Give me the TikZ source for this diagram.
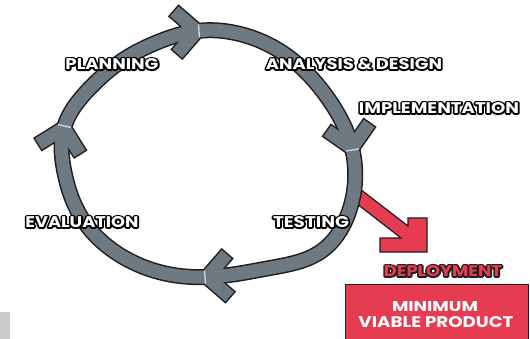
\documentclass[tikz,border=0pt]{standalone}
\usepackage{fontspec}
\setmainfont{Poppins}
\usetikzlibrary{calc,hobby}
\definecolor{ringgray}{RGB}{111,121,129}
\definecolor{ringdark}{RGB}{30,30,32}
\definecolor{seamcol}{RGB}{214,218,222}
\definecolor{mvpred}{RGB}{229,60,82}
\definecolor{palegray}{RGB}{201,201,201}
% outlined text: a stroked copy underneath, the filled text on top
\newcommand\otext[3]{\rlap{\special{pdf:literal direct q 2 Tr 2 w 1 j #1 RG #1 rg}#3\special{pdf:literal direct Q}}\textcolor{#2}{#3}}
\newcommand\lbl[5]{\resizebox{#1pt}{#2pt}{\bfseries\otext{#3}{#4}{#5}}}
\newcommand\chevpath[2]{($(#1)+(#2+225:30)$) -- (#1) -- ($(#1)+(#2+135:30)$)}
\newcommand\seampath[2]{($(#1)+(#2:2)+(#2+90:6.5)$) -- ($(#1)+(#2:2)+(#2-90:6.5)$)}
\begin{document}
\begin{tikzpicture}[x=1pt,y=-1pt,
  lab/.style={inner sep=0pt, anchor=center},
  ringout/.style={ringdark, line width=16pt},
  ringin/.style={ringgray, line width=13pt},
  chevout/.style={ringdark, line width=16pt, line join=miter, shorten <=-1.5pt, shorten >=-1.5pt},
  chevin/.style={ringgray, line width=13pt, line join=miter},
  seam/.style={seamcol, line width=1.3pt}]
\useasboundingbox (0,0) rectangle (530,339);
\fill[white] (0,0) rectangle (530,339);
\fill[palegray] (0,312) rectangle (10,339);

% red deployment arrow
\draw[fill=mvpred, draw=ringdark, line width=1.2pt, line join=miter]
  (360,189) -- (408,226) -- (408,218) -- (427,218) -- (427,252) -- (380,252) -- (380,238) -- (401,238) -- (352,200) -- cycle;

\coordinate (tT) at (197,31);
\coordinate (tR) at (352,148);
\coordinate (tB) at (207,277);
\coordinate (tL) at (64,128);

% ring outline
\draw[ringout] plot[closed hobby] coordinates {(197,31) (240,34) (290,58) (327,97) (352,148) (355,182) (347,217) (323,250) (270,268) (207,277) (173,275) (123,257) (83,220) (64,170) (64,128) (90,88) (123,60) (163,40)};
\draw[chevout] \chevpath{tT}{-4};
\draw[chevout] \chevpath{tR}{80};
\draw[chevout] \chevpath{tB}{176};
\draw[chevout] \chevpath{tL}{-77};
% ring fill
\draw[ringin] plot[closed hobby] coordinates {(197,31) (240,34) (290,58) (327,97) (352,148) (355,182) (347,217) (323,250) (270,268) (207,277) (173,275) (123,257) (83,220) (64,170) (64,128) (90,88) (123,60) (163,40)};
\draw[chevin] \chevpath{tT}{-4};
\draw[chevin] \chevpath{tR}{80};
\draw[chevin] \chevpath{tB}{176};
\draw[chevin] \chevpath{tL}{-77};
\draw[seam] \seampath{tT}{-4};
\draw[seam] \seampath{tR}{80};
\draw[seam] \seampath{tB}{176};
\draw[seam] \seampath{tL}{-77};

% labels
\node[lab] (planning) at (112,64) {\lbl{93}{11}{0 0 0}{white}{PLANNING}};
\node[lab] (analysis) at (354,64) {\lbl{176}{11}{0 0 0}{white}{ANALYSIS \& DESIGN}};
\node[lab] (impl) at (439,108) {\lbl{160}{11}{0 0 0}{white}{IMPLEMENTATION}};
\node[lab] (eval) at (82,222) {\lbl{113}{11}{0 0 0}{white}{EVALUATION}};
\node[lab] (testing) at (311,222) {\lbl{76}{11}{0 0 0}{white}{TESTING}};
\node[lab] (deploy) at (443,271) {\lbl{118}{11}{0.12 0.12 0.125}{mvpred}{DEPLOYMENT}};

\node[draw=ringdark, fill=mvpred, line width=1pt, minimum width=183pt, minimum height=61pt, inner sep=0pt] (mvp) at (436.5,314.5) {};
\node[lab] (mvp1) at (435,307) {\resizebox{86pt}{10pt}{\color{white}\bfseries MINIMUM}};
\node[lab] (mvp2) at (436,322.5) {\resizebox{155pt}{11pt}{\color{white}\bfseries VIABLE PRODUCT}};
\end{tikzpicture}
\end{document}
